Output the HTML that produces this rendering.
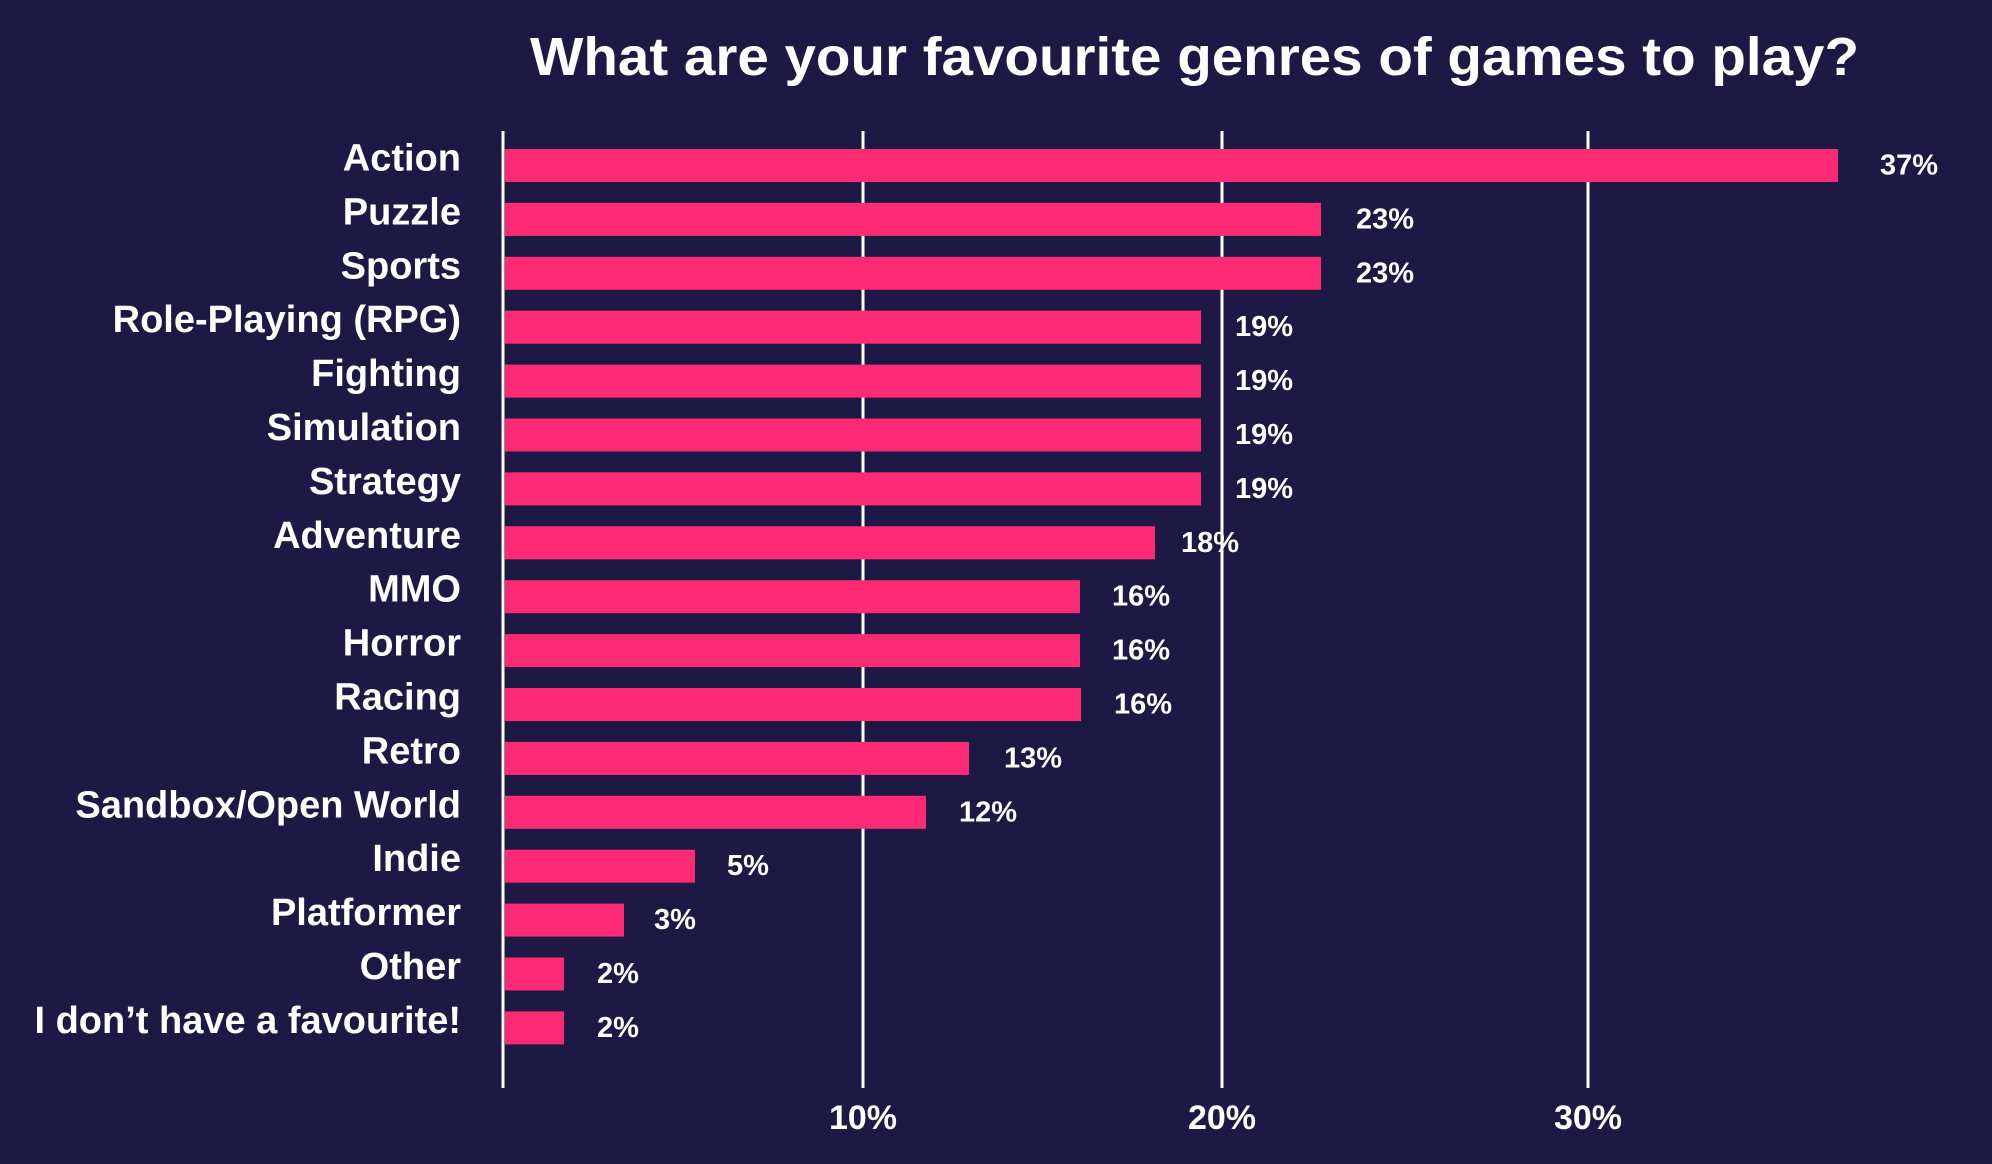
<!DOCTYPE html>
<html><head><meta charset="utf-8"><style>
html,body{margin:0;padding:0;background:#1e1845;}
svg{display:block;font-family:"Liberation Sans",sans-serif;font-weight:bold;}
</style></head><body>
<svg width="1992" height="1164" viewBox="0 0 1992 1164" xmlns="http://www.w3.org/2000/svg">
<rect width="1992" height="1164" fill="#1e1845"/>
<text x="530" y="57" fill="#fff" font-size="54" textLength="1329" lengthAdjust="spacingAndGlyphs" dominant-baseline="central">What are your favourite genres of games to play?</text>
<g stroke="#fff" stroke-width="3">
<line x1="503" y1="131" x2="503" y2="1088"/>
<line x1="863" y1="131" x2="863" y2="1088"/>
<line x1="1222" y1="131" x2="1222" y2="1088"/>
<line x1="1588" y1="131" x2="1588" y2="1088"/>
</g>
<g fill="#fff" font-size="34" text-anchor="middle" dominant-baseline="central">
<text x="863" y="1118">10%</text><text x="1222" y="1118">20%</text><text x="1588" y="1118">30%</text>
</g>
<g fill="#ff2a74">
<rect x="505" y="149" width="1333" height="33"/>
<rect x="505" y="202.9" width="816" height="33"/>
<rect x="505" y="256.8" width="816" height="33"/>
<rect x="505" y="310.7" width="696" height="33"/>
<rect x="505" y="364.6" width="696" height="33"/>
<rect x="505" y="418.5" width="696" height="33"/>
<rect x="505" y="472.4" width="696" height="33"/>
<rect x="505" y="526.3" width="650" height="33"/>
<rect x="505" y="580.2" width="575" height="33"/>
<rect x="505" y="634.1" width="575" height="33"/>
<rect x="505" y="688" width="576" height="33"/>
<rect x="505" y="741.9" width="464" height="33"/>
<rect x="505" y="795.8" width="421" height="33"/>
<rect x="505" y="849.7" width="190" height="33"/>
<rect x="505" y="903.6" width="119" height="33"/>
<rect x="505" y="957.5" width="59" height="33"/>
<rect x="505" y="1011.4" width="59" height="33"/>
</g>
<g fill="#fff" font-size="38" text-anchor="end" dominant-baseline="central">
<text x="461" y="158.5">Action</text>
<text x="461" y="212.4">Puzzle</text>
<text x="461" y="266.3">Sports</text>
<text x="461" y="320.2">Role-Playing (RPG)</text>
<text x="461" y="374.1">Fighting</text>
<text x="461" y="428">Simulation</text>
<text x="461" y="481.9">Strategy</text>
<text x="461" y="535.8">Adventure</text>
<text x="461" y="589.7">MMO</text>
<text x="461" y="643.6">Horror</text>
<text x="461" y="697.5">Racing</text>
<text x="461" y="751.4">Retro</text>
<text x="461" y="805.3">Sandbox/Open World</text>
<text x="461" y="859.2">Indie</text>
<text x="461" y="913.1">Platformer</text>
<text x="461" y="967">Other</text>
<text x="461" y="1020.9">I don’t have a favourite!</text>
</g>
<g fill="#fff" font-size="29" dominant-baseline="central">
<text x="1880" y="165.5">37%</text>
<text x="1356" y="219.4">23%</text>
<text x="1356" y="273.3">23%</text>
<text x="1235" y="327.2">19%</text>
<text x="1235" y="381.1">19%</text>
<text x="1235" y="435">19%</text>
<text x="1235" y="488.9">19%</text>
<text x="1181" y="542.8">18%</text>
<text x="1112" y="596.7">16%</text>
<text x="1112" y="650.6">16%</text>
<text x="1114" y="704.5">16%</text>
<text x="1004" y="758.4">13%</text>
<text x="959" y="812.3">12%</text>
<text x="727" y="866.2">5%</text>
<text x="654" y="920.1">3%</text>
<text x="597" y="974">2%</text>
<text x="597" y="1027.9">2%</text>
</g>
</svg>
</body></html>
